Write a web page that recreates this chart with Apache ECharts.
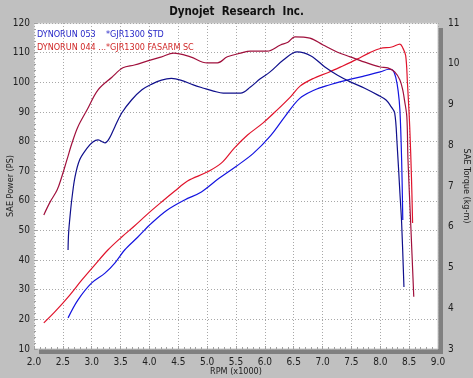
<!DOCTYPE html>
<html>
<head>
<meta charset="utf-8">
<script src="https://cdn.jsdelivr.net/npm/echarts@6/dist/echarts.min.js"></script>
<style>
  html, body { margin: 0; padding: 0; background: #c0c0c0; }
  #chart { width: 473px; height: 378px; }
</style>
</head>
<body>
<div id="chart"></div>
<script>
// RPM (x1000) and SAE power (PS) -- left axis
const bluePowerRpm = [2.59, 2.76, 3.0, 3.23, 3.40, 3.57, 3.80, 4.04, 4.31, 4.61, 4.90, 5.20, 5.50, 5.80, 6.10, 6.35, 6.60, 6.85, 7.10, 7.40, 7.70, 8.0, 8.15, 8.22, 8.27, 8.31, 8.34, 8.37, 8.39];
const bluePower = [20.5, 26.5, 32.3, 35.6, 39.0, 43.4, 47.8, 52.5, 56.9, 60.3, 63.0, 67.5, 71.6, 76.0, 82.0, 88.5, 94.5, 97.3, 99.0, 100.6, 102.0, 103.5, 104.4, 104.0, 101.5, 97.0, 90.6, 73.8, 53.5];

const redPowerRpm = [2.17, 2.36, 2.59, 2.83, 3.05, 3.28, 3.52, 3.74, 3.97, 4.21, 4.44, 4.66, 5.0, 5.25, 5.47, 5.70, 5.97, 6.21, 6.44, 6.61, 6.84, 7.10, 7.35, 7.60, 7.82, 8.0, 8.2, 8.34, 8.39, 8.44, 8.47, 8.51, 8.54, 8.56];
const redPower = [18.8, 22.5, 27.5, 33.3, 38.3, 43.4, 47.8, 51.5, 55.6, 59.6, 63.3, 66.7, 69.7, 72.8, 77.8, 82.2, 86.3, 90.6, 95.0, 98.7, 101.3, 103.3, 105.5, 107.8, 110.0, 111.4, 111.9, 112.9, 111.6, 109.0, 100.0, 85.0, 68.0, 52.5];

// SAE torque (kg-m) -- right axis
const blueTorqueRpm = [2.59, 2.60, 2.63, 2.66, 2.71, 2.79, 2.92, 3.02, 3.11, 3.23, 3.31, 3.40, 3.52, 3.69, 3.87, 4.04, 4.21, 4.38, 4.54, 4.76, 4.94, 5.11, 5.28, 5.58, 5.75, 5.92, 6.09, 6.32, 6.56, 6.80, 7.04, 7.26, 7.49, 7.73, 7.96, 8.10, 8.19, 8.25, 8.29, 8.34, 8.37, 8.41];
const blueTorque = [5.43, 5.85, 6.34, 6.73, 7.22, 7.64, 7.93, 8.08, 8.13, 8.06, 8.18, 8.45, 8.79, 9.11, 9.36, 9.50, 9.60, 9.64, 9.60, 9.48, 9.40, 9.33, 9.28, 9.28, 9.43, 9.63, 9.80, 10.09, 10.29, 10.19, 9.92, 9.72, 9.55, 9.40, 9.23, 9.11, 8.94, 8.79, 8.06, 6.83, 6.09, 4.52];

const redTorqueRpm = [2.17, 2.28, 2.40, 2.48, 2.57, 2.66, 2.76, 2.92, 3.11, 3.35, 3.54, 3.74, 3.97, 4.21, 4.42, 4.71, 5.0, 5.18, 5.35, 5.58, 5.75, 6.04, 6.27, 6.40, 6.52, 6.78, 7.01, 7.25, 7.48, 7.77, 8.0, 8.13, 8.25, 8.34, 8.39, 8.42, 8.46, 8.48, 8.53, 8.58];
const redTorque = [6.29, 6.61, 6.90, 7.22, 7.64, 8.06, 8.45, 8.87, 9.36, 9.67, 9.90, 9.97, 10.07, 10.17, 10.26, 10.17, 10.02, 10.02, 10.17, 10.26, 10.31, 10.31, 10.46, 10.53, 10.66, 10.63, 10.46, 10.29, 10.17, 10.02, 9.92, 9.90, 9.80, 9.60, 9.35, 9.10, 8.70, 7.64, 5.99, 4.28];

const runLabels = ["DYNORUN 053    *GJR1300 STD", "DYNORUN 044 ...*GJR1300 FASARM SC"];

const pair = (xs, ys) => xs.map((x, i) => [x, ys[i]]);

const font = "'Liberation Sans Narrow', 'DejaVu Sans Condensed', sans-serif";
const txt = "#202020";

const chart = echarts.init(document.getElementById("chart"));

const gridL = 34, gridT = 23, gridW = 404, gridH = 326;

function line(color, axis, xs, ys) {
  return {
    type: "line", yAxisIndex: axis, showSymbol: false,
    smooth: 0.35,
    lineStyle: { color: color, width: 1.2 },
    data: pair(xs, ys),
  };
}

const options = {
  backgroundColor: "#c0c0c0",
  animation: false,
  title: {
    text: "Dynojet  Research  Inc.",
    left: "center",
    top: 1,
    textStyle: { fontFamily: "'DejaVu Sans Condensed', sans-serif", fontSize: 11.5, fontWeight: "bold", color: "#101010" },
  },
  grid: {
    left: gridL, top: gridT, width: gridW, height: gridH,
    outerBoundsMode: "none",
    containLabel: false,
    show: true,
    backgroundColor: "#ffffff",
    borderColor: "#c8c8c8",
    borderWidth: 1,
  },
  graphic: [
    // drop shadow of the plot area
    { type: "rect", z: -1, shape: { x: gridL + 5, y: gridT + 5, width: gridW, height: gridH }, style: { fill: "#808080" } },
    { type: "text", z: 10, left: 37, top: 30, style: { text: runLabels[0], fill: "#2828c8", font: "9px " + font } },
    { type: "text", z: 10, left: 37, top: 43, style: { text: runLabels[1], fill: "#d02828", font: "9px " + font } },
  ],
  xAxis: {
    type: "value",
    min: 2, max: 9, interval: 0.5,
    name: "RPM (x1000)",
    nameLocation: "middle",
    nameGap: 18,
    nameMoveOverlap: false,
    nameTextStyle: { fontFamily: font, fontSize: 9, color: txt },
    axisLine: { show: false },
    axisTick: { show: true, inside: true, length: 3, lineStyle: { color: "#a0a0a0" } },
    minorTick: { show: true, splitNumber: 5, length: 2, lineStyle: { color: "#a0a0a0" } },
    axisLabel: { margin: 8, fontFamily: font, fontSize: 10, color: txt, formatter: (v) => v.toFixed(1) },
    splitLine: { show: true, lineStyle: { color: "#a8a8a8", type: [1, 2] } },
  },
  yAxis: [
    {
      type: "value",
      min: 10, max: 120, interval: 10,
      name: "SAE Power (PS)",
      nameLocation: "middle",
      nameGap: 19,
      nameMoveOverlap: false,
      nameTextStyle: { fontFamily: font, fontSize: 9, color: txt },
      axisLine: { show: false },
      axisTick: { show: true, inside: true, length: 3, lineStyle: { color: "#a0a0a0" } },
      minorTick: { show: true, splitNumber: 5, length: 2, lineStyle: { color: "#a0a0a0" } },
      axisLabel: { margin: 4, fontFamily: font, fontSize: 10, color: txt },
      splitLine: { show: true, lineStyle: { color: "#a8a8a8", type: [1, 2] } },
    },
    {
      type: "value",
      min: 3, max: 11, interval: 1,
      position: "right",
      name: "SAE Torque (kg-m)",
      nameLocation: "middle",
      nameRotate: -90,
      nameGap: 24,
      nameMoveOverlap: false,
      nameTextStyle: { fontFamily: font, fontSize: 9, color: txt },
      axisLine: { show: false },
      axisTick: { show: false },
      axisLabel: { margin: 10, fontFamily: font, fontSize: 10, color: txt },
      splitLine: { show: false },
    },
  ],
  series: [
    line("#1414e0", 0, bluePowerRpm, bluePower),
    line("#e0142c", 0, redPowerRpm, redPower),
    line("#10108c", 1, blueTorqueRpm, blueTorque),
    line("#a0103c", 1, redTorqueRpm, redTorque),
  ],
};

chart.setOption(options);
</script>
</body>
</html>
